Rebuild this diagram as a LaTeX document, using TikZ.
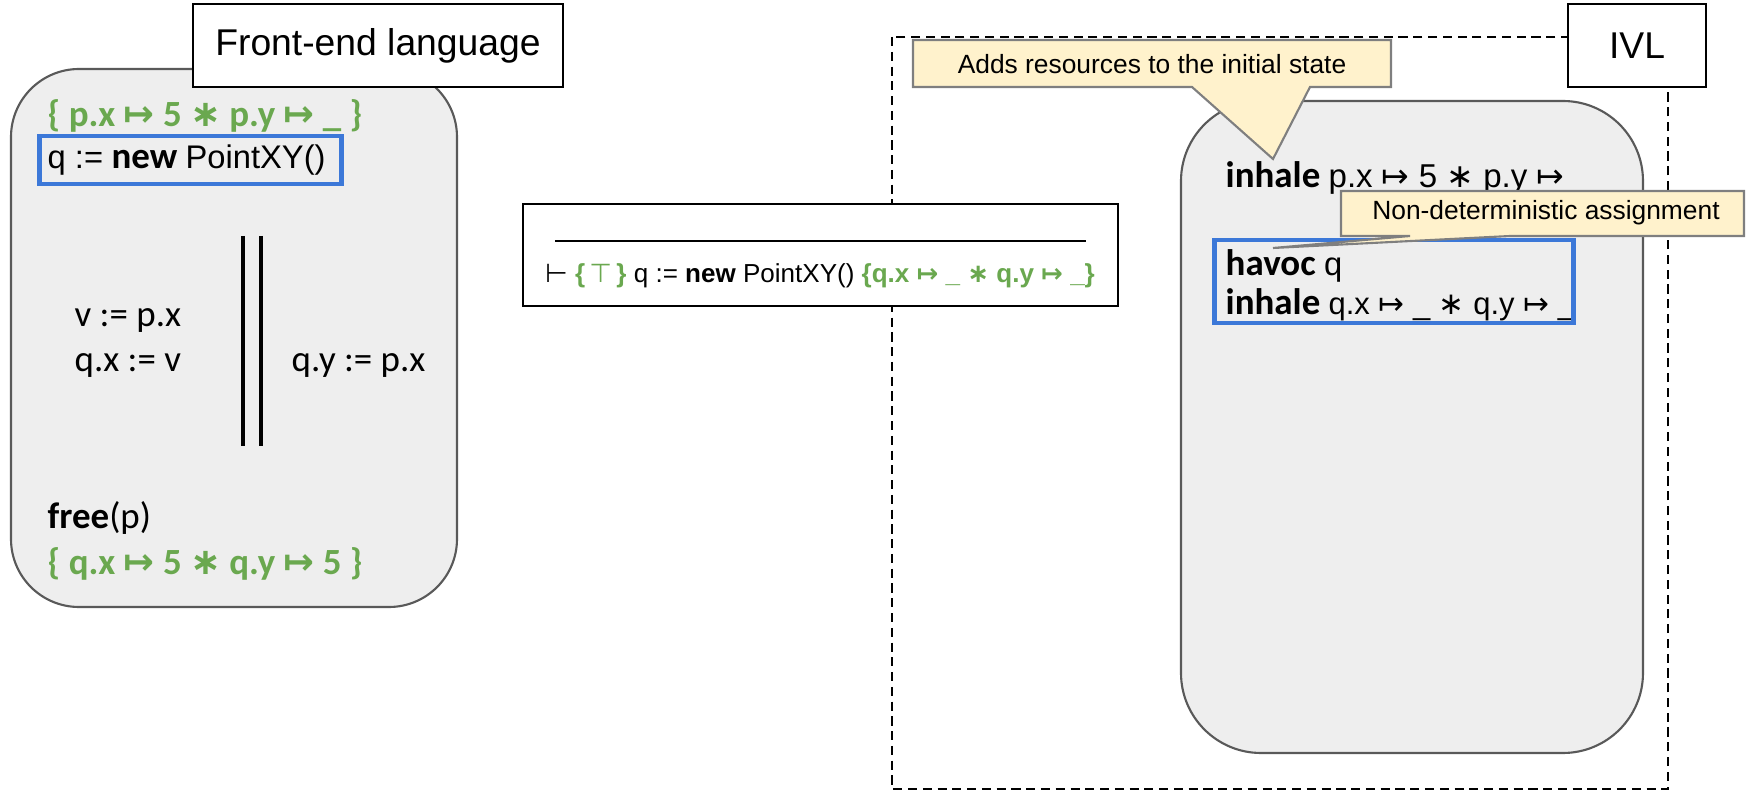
\documentclass[tikz,border=0pt]{standalone}
\usepackage{fontspec}
\setmainfont{Carlito}
\newfontfamily\arial{Liberation Sans}
\newfontfamily\dejavu{DejaVu Sans}
\definecolor{panelgray}{HTML}{EEEEEE}
\definecolor{panelline}{HTML}{595959}
\definecolor{specgreen}{HTML}{6AA84F}
\definecolor{frameblue}{HTML}{3C78D8}
\definecolor{notefill}{HTML}{FFF2CC}
\definecolor{noteline}{HTML}{7F7F7F}
\newcommand{\mapsym}{{\dejavu\char"21A6}}
\newcommand{\sepstar}{{\dejavu\char"2217}}
\newcommand{\plain}[2][9.3]{{\arial\fontsize{#1}{11}\selectfont #2}}
\begin{document}
\begin{tikzpicture}[x=0.01cm, y=-0.01cm,
  code/.style={anchor=west, inner sep=0pt, font=\fontsize{10.5}{12.6}\selectfont},
  spec/.style={code, text=specgreen},
  panel/.style={draw=panelline, fill=panelgray, line width=0.6pt},
  titlebox/.style={draw, fill=white, line width=0.6pt, inner sep=0pt, font=\arial\fontsize{10.6}{12.7}\selectfont},
  markbox/.style={draw=frameblue, line width=1.4pt, inner sep=0pt},
  notebox/.style={draw=noteline, fill=notefill, line width=0.6pt},
  notetext/.style={inner sep=0pt, font=\arial\fontsize{7.5}{9}\selectfont}]
\useasboundingbox (0,0) rectangle (1747,791);
\draw [dash pattern=on 2.6pt off 1.6pt, line width=0.6pt] (892,37) rectangle (1668,789);
\draw [panel, rounded corners=0.68cm] (11,69) rectangle (457,607);
\draw [panel, rounded corners=0.8cm] (1181,101) rectangle (1643,753);
\node (frontend) [titlebox, minimum width=3.7cm, minimum height=0.83cm] at (378,45.5) {Front-end language};
\node (ivl) [titlebox, minimum width=1.38cm, minimum height=0.83cm] at (1637,45.5) {IVL};

\node (pre) [spec] at (47,116) {\textbf{\{ p.x \mapsym{} 5 \sepstar{} p.y \mapsym{} \_ \}}};
\node (newobj) [code] at (47,160) {\plain{q :=} \textbf{new} \plain{PointXY()}};
\node (newbox) [markbox, minimum width=3.01cm, minimum height=0.48cm] at (190.5,160) {};
\node (readx) [code] at (74,321) {v := p.x};
\node (writex) [code] at (74,366) {q.x := v};
\node (writey) [code] at (291,366) {q.y := p.x};
\draw [line width=1pt] (243,236) -- (243,446);
\draw [line width=1pt] (261,236) -- (261,446);
\node (free) [code] at (47,518) {\textbf{free}(p)};
\node (post) [spec] at (47,564) {\textbf{\{ q.x \mapsym{} 5 \sepstar{} q.y \mapsym{} 5 \}}};

\node (rule) [draw, fill=white, line width=0.6pt, minimum width=5.95cm, minimum height=1.02cm] at (820.5,255) {};
\draw [line width=0.5pt] (555,241) -- (1086,241);
\node (triple) [inner sep=0pt, font=\arial\fontsize{7.4}{9}\selectfont] at (820,276) {{\dejavu\char"22A2} {\color{specgreen}\bfseries\{\,{\dejavu\mdseries\char"22A4}\,\}} q := \textbf{new} PointXY() {\color{specgreen}\bfseries\{q.x \mapsym{} \_ \sepstar{} q.y \mapsym{} \_\}}};

\node (inhalepre) [code] at (1225,178) {\textbf{inhale} \plain[9.4]{p.x \mapsym{} 5 \sepstar{} p.y \mapsym}};
\node (havoc) [code] at (1225,266) {\textbf{havoc} \plain{q}};
\node (inhalenew) [code] at (1225,305) {\textbf{inhale} \plain[8.8]{q.x \mapsym{} \_ \sepstar{} q.y \mapsym{} \_}};
\node (havocbox) [markbox, minimum width=3.58cm, minimum height=0.83cm] at (1394,281.5) {};

\draw [notebox] (913,40) -- (1391,40) -- (1391,87) -- (1310,87) -- (1273,159) -- (1192,87) -- (913,87) -- cycle;
\node (addnote) [notetext] at (1152,64) {Adds resources to the initial state};
\draw [notebox] (1341,191) -- (1744,191) -- (1744,236) -- (1510,236) -- (1273,248) -- (1410,236) -- (1341,236) -- cycle;
\node (havocnote) [notetext] at (1546,213) {Non-deterministic assignment};
\end{tikzpicture}
\end{document}
